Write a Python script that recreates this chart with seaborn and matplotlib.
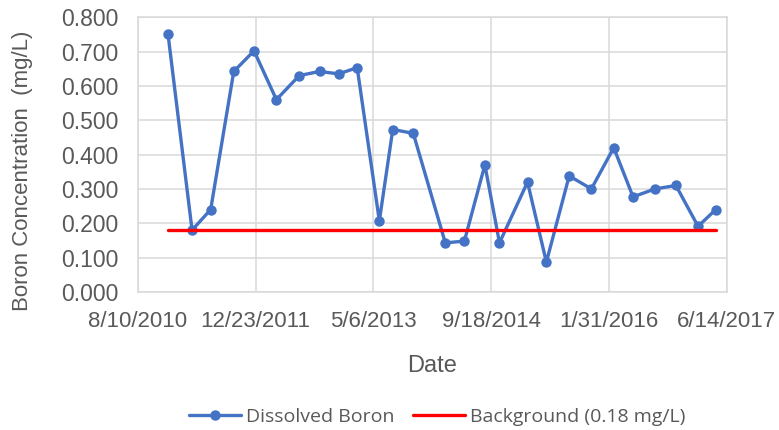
import pandas as pd
import seaborn as sns
import matplotlib.pyplot as plt

# sample dates and dissolved boron results (mg/L)
sample_dates = ["2010-12-16", "2011-03-28", "2011-06-15", "2011-09-21", "2011-12-16",
                "2012-03-20", "2012-06-25", "2012-09-19", "2012-12-09", "2013-02-26",
                "2013-05-31", "2013-07-27", "2013-10-22", "2014-03-07", "2014-05-27",
                "2014-08-22", "2014-10-23", "2015-02-19", "2015-05-10", "2015-08-15",
                "2015-11-17", "2016-02-20", "2016-05-12", "2016-08-13", "2016-11-10",
                "2017-02-12", "2017-04-28"]
boron = [0.750, 0.180, 0.240, 0.642, 0.702, 0.560, 0.630, 0.642, 0.635, 0.653,
         0.207, 0.473, 0.462, 0.143, 0.148, 0.370, 0.143, 0.320, 0.087, 0.338,
         0.300, 0.420, 0.277, 0.300, 0.310, 0.191, 0.240]
background = 0.18
tick_dates = ["2010-08-10", "2011-12-23", "2013-05-06", "2014-09-18", "2016-01-31", "2017-06-14"]

df = pd.DataFrame({"Date": pd.to_datetime(sample_dates), "Boron": boron})
bg = pd.DataFrame({"Date": df["Date"].iloc[[0, -1]], "Boron": [background, background]})
ticks = pd.to_datetime(tick_dates)

sns.set_theme(style="white")
plt.rcParams["font.family"] = ["Liberation Sans", "DejaVu Sans"]
grey = "#595959"
grid = "#D9D9D9"

fig = plt.figure(figsize=(7.79, 4.30), dpi=100)
ax = fig.add_axes([0.177, 0.321, 0.756, 0.639])

sns.lineplot(data=df, x="Date", y="Boron", ax=ax, color="#4472C4", linewidth=2.4,
             marker="o", markersize=7.5, markeredgewidth=0, label="Dissolved Boron", zorder=3)
sns.lineplot(data=bg, x="Date", y="Boron", ax=ax, color="#FF0000", linewidth=2.4,
             label="Background (0.18 mg/L)", zorder=4)

ax.set_xlim(ticks[0], ticks[-1])
ax.set_ylim(0, 0.8)
ax.set_xticks(ticks)
ax.set_xticklabels([f"{d.month}/{d.day}/{d.year}" for d in ticks])
ax.set_yticks([i / 10 for i in range(9)])
ax.set_yticklabels([f"{i / 10:.3f}" for i in range(9)])

ax.grid(True, color=grid, linewidth=1.1)
ax.set_axisbelow(True)
for s in ax.spines.values():
    s.set_color(grid)
    s.set_linewidth(1.1)
ax.tick_params(length=0, labelsize=16, labelcolor=grey)
ax.tick_params(axis="y", labelsize=16.5, pad=14)
ax.tick_params(axis="x", pad=14)

ax.set_xlabel("Date", fontsize=17, color=grey)
ax.xaxis.set_label_coords(0.5, -0.228)
ax.set_ylabel("Boron Concentration  (mg/L)", fontsize=16, color=grey)
ax.yaxis.set_label_coords(-0.178, 0.44)

leg = ax.legend(loc="center", bbox_to_anchor=(0.508, -0.456), ncol=2, frameon=False,
                handlelength=2.67, columnspacing=0.93, handletextpad=0.26,
                prop={"family": "Open Sans", "size": 14})
for t in leg.get_texts():
    t.set_color(grey)

fig.savefig("out.png", dpi=100)
